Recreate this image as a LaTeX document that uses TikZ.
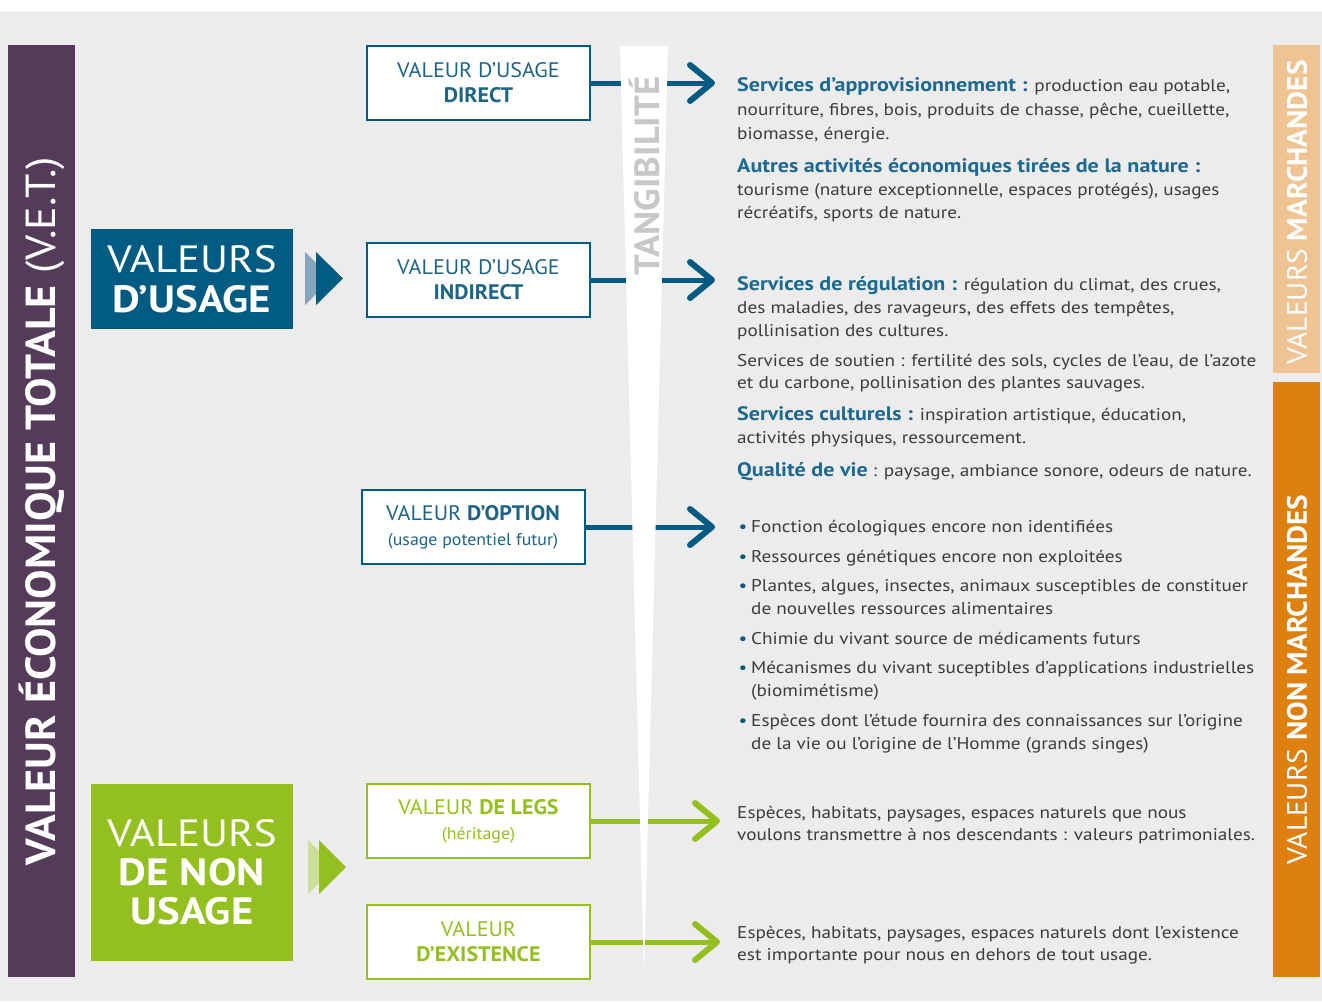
\documentclass[tikz,border=0pt]{standalone}
\usepackage{fontspec}
\setmainfont{PT Sans}[FakeStretch=1.05]
\newfontfamily\widefont{PT Sans}[FakeStretch=1.13]
\usetikzlibrary{positioning}

\definecolor{bggrey}{RGB}{236,236,236}
\definecolor{vetpurple}{RGB}{85,59,90}
\definecolor{usageblue}{RGB}{0,91,130}
\definecolor{usagelight}{RGB}{134,166,190}
\definecolor{boxblue}{RGB}{30,100,135}
\definecolor{headblue}{RGB}{28,105,145}
\definecolor{nongreen}{RGB}{147,192,31}
\definecolor{greenlight}{RGB}{205,222,155}
\definecolor{orangelight}{RGB}{240,196,146}
\definecolor{orangedark}{RGB}{222,128,16}
\definecolor{bodygrey}{RGB}{60,60,60}
\definecolor{tangrey}{RGB}{200,200,200}

% headings inside the description blocks
\newcommand\hd[1]{{\fontsize{19.5}{23}\selectfont\bfseries\color{headblue}#1}}
\newcommand\bul{\llap{\textcolor{usageblue}{•}\hspace{4pt}}}

\tikzset{
  valbox/.style={draw, line width=2pt, fill=white, minimum width=223pt,
    minimum height=74pt, align=center, inner sep=0pt,
    font=\fontsize{21}{25}\selectfont},
  bluebox/.style={valbox, draw=usageblue, text=boxblue},
  greenbox/.style={valbox, draw=nongreen, text=nongreen},
  bigbox/.style={minimum width=202pt, inner sep=0pt, text=white, align=center},
  % anchored at the baseline of the last line
  bodytext/.style={anchor=base west, align=left, inner sep=0pt, text=bodygrey,
    font=\widefont\fontsize{17}{23}\selectfont},
  conn/.style={line width=5pt, shorten >=2pt},
  chev/.style={line width=6pt, line cap=round, line join=round},
  vertlabel/.style={rotate=90, text=white, inner sep=0pt},
}

\newcommand\chevron[2]{\draw[chev,#1] ([shift={(-22,-18)}]#2) -- (#2) -- ([shift={(-22,18)}]#2);}

\begin{document}
\begin{tikzpicture}[x=1pt,y=-1pt]
\useasboundingbox (0,0) rectangle (1322,1001);
\fill[white] (0,0) rectangle (1322,1001);
\fill[bggrey] (0,11) rectangle (1322,1001);

% total economic value bar
\node[fill=vetpurple, minimum width=67pt, minimum height=932pt, inner sep=0pt] (vet) at (41.5,511) {};
\node[vertlabel, font=\fontsize{42}{42}\selectfont] (vettext) at (42,511) {\textbf{VALEUR ÉCONOMIQUE TOTALE} (V.E.T.)};

% use / non-use values
\node[bigbox, fill=usageblue, minimum height=100pt, font=\widefont\fontsize{38}{40}\selectfont] (usage) at (192,279) {VALEURS\\\textbf{D’USAGE}};
\node[bigbox, fill=nongreen, minimum height=177pt, font=\widefont\fontsize{38}{39}\selectfont] (nonusage) at (192,872.5) {VALEURS\\\textbf{DE NON}\\\textbf{USAGE}};

% double triangles
\fill[usagelight] (305,252) -- (332,278.5) -- (305,305) -- cycle;
\fill[usageblue] (316,252) -- (343,278.5) -- (316,305) -- cycle;
\fill[greenlight] (308,840) -- (335,867) -- (308,894) -- cycle;
\fill[nongreen] (319,840) -- (346,867) -- (319,894) -- cycle;

% value boxes
\node[bluebox] (direct) at (478.5,83) {VALEUR D’USAGE\\\textbf{DIRECT}};
\node[bluebox] (indirect) at (478.5,280) {VALEUR D’USAGE\\\textbf{INDIRECT}};
\node[bluebox] (option) at (473,527) {VALEUR \textbf{D’OPTION}\\{\fontsize{17}{22}\selectfont(usage potentiel futur)}};
\node[greenbox] (legs) at (478.5,821) {VALEUR \textbf{DE LEGS}\\{\fontsize{17}{22}\selectfont(héritage)}};
\node[greenbox] (existence) at (478.5,942) {VALEUR\\\textbf{D’EXISTENCE}};

% arrow ends
\coordinate (tipdirect) at (712,83);
\coordinate (tipindirect) at (712,280);
\coordinate (tipoption) at (712,527);
\coordinate (tiplegs) at (717,821);
\coordinate (tipexistence) at (717,942);

\draw[conn, usageblue] (direct) -- (tipdirect);
\draw[conn, usageblue] (indirect) -- (tipindirect);
\draw[conn, usageblue] (option) -- (tipoption);
\draw[conn, nongreen] (legs) -- (tiplegs);
\draw[conn, nongreen] (existence) -- (tipexistence);
\chevron{usageblue}{tipdirect}
\chevron{usageblue}{tipindirect}
\chevron{usageblue}{tipoption}
\chevron{nongreen}{tiplegs}
\chevron{nongreen}{tipexistence}

% tangibility wedge
\fill[white] (620,46) -- (668,46) -- (644,975) -- cycle;
\node[rotate=90, text=tangrey, inner sep=0pt, font=\bfseries\fontsize{35}{35}\selectfont] (tang) at (645,176) {TANGIBILITÉ};

% market / non-market bars
\node[fill=orangelight, minimum width=47pt, minimum height=328pt, inner sep=0pt] (march) at (1296.5,209) {};
\node[vertlabel, font=\fontsize{28}{28}\selectfont] (marchtext) at (1297,212.5) {VALEURS \textbf{MARCHANDES}};
\node[fill=orangedark, minimum width=47pt, minimum height=595pt, inner sep=0pt] (nonmarch) at (1296.5,679.5) {};
\node[vertlabel, font=\fontsize{28}{28}\selectfont] (nonmarchtext) at (1297,679.5) {VALEURS \textbf{NON MARCHANDES}};

% descriptions
\node[bodytext, font=\widefont\fontsize{17}{24}\selectfont] (b1) at (737,139) {\hd{Services d’approvisionnement :} production eau potable,\\nourriture, fibres, bois, produits de chasse, pêche, cueillette,\\biomasse, énergie.};
\node[bodytext] (b2) at (737,218) {\hd{Autres activités économiques tirées de la nature :}\\tourisme (nature exceptionnelle, espaces protégés), usages\\récréatifs, sports de nature.};
\node[bodytext] (b3) at (737,336) {\hd{Services de régulation :} régulation du climat, des crues,\\des maladies, des ravageurs, des effets des tempêtes,\\pollinisation des cultures.};
\node[bodytext, font=\widefont\fontsize{17}{22}\selectfont] (b4) at (737,388) {Services de soutien : fertilité des sols, cycles de l’eau, de l’azote\\et du carbone, pollinisation des plantes sauvages.};
\node[bodytext] (b5) at (737,443) {\hd{Services culturels :} inspiration artistique, éducation,\\activités physiques, ressourcement.};
\node[bodytext] (b6) at (737,476) {\hd{Qualité de vie} : paysage, ambiance sonore, odeurs de nature.};

\node[bodytext] (o1) at (751,532) {\bul Fonction écologiques encore non identifiées};
\node[bodytext] (o2) at (751,562) {\bul Ressources génétiques encore non exploitées};
\node[bodytext] (o3) at (751,614) {\bul Plantes, algues, insectes, animaux susceptibles de constituer\\de nouvelles ressources alimentaires};
\node[bodytext] (o4) at (751,644) {\bul Chimie du vivant source de médicaments futurs};
\node[bodytext] (o5) at (751,696) {\bul Mécanismes du vivant suceptibles d’applications industrielles\\(biomimétisme)};
\node[bodytext] (o6) at (751,749) {\bul Espèces dont l’étude fournira des connaissances sur l’origine\\de la vie ou l’origine de l’Homme (grands singes)};

\node[bodytext, font=\widefont\fontsize{17}{22}\selectfont] (l1) at (737,840) {Espèces, habitats, paysages, espaces naturels que nous\\voulons transmettre à nos descendants : valeurs patrimoniales.};
\node[bodytext, font=\widefont\fontsize{17}{22}\selectfont] (e1) at (737,960) {Espèces, habitats, paysages, espaces naturels dont l’existence\\est importante pour nous en dehors de tout usage.};
\end{tikzpicture}
\end{document}
